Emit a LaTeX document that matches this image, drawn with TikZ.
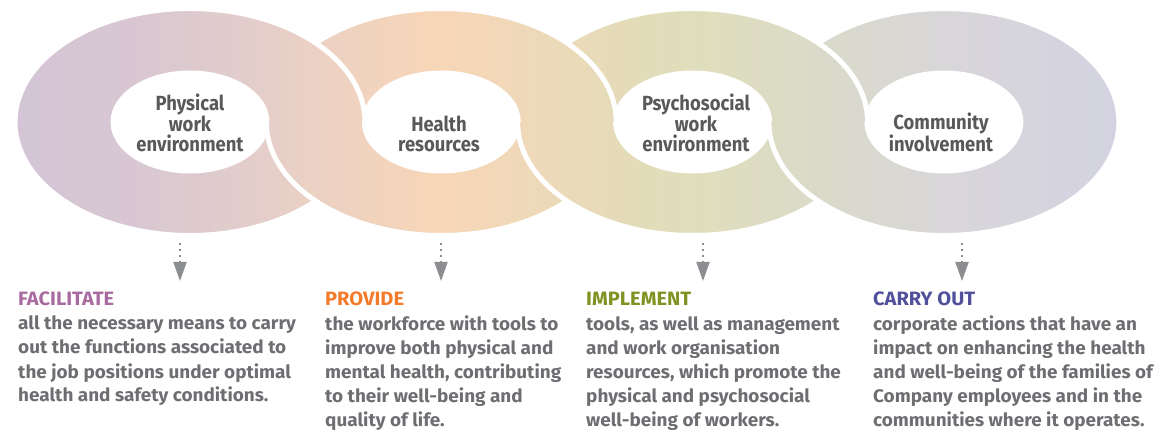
\documentclass[tikz,border=0pt]{standalone}
\usepackage{fontspec}
\setmainfont{Fira Sans}[FakeStretch=1.04]
\newfontfamily\linkfont{Fira Sans}[FakeStretch=0.9]
\usetikzlibrary{arrows.meta}

% text colours
\definecolor{labelgray}{HTML}{58595B}
\definecolor{bodygray}{HTML}{6D6E71}
\definecolor{arrowgray}{HTML}{8C8D90}
\definecolor{hfac}{HTML}{A86BA0}
\definecolor{hpro}{HTML}{F37B2C}
\definecolor{himp}{HTML}{7E9322}
\definecolor{hcar}{HTML}{50519A}

% colour stops of the band running through the chain, left to right
\definecolor{ga}{HTML}{D3C4D7}
\definecolor{gb}{HTML}{D8C7D2}
\definecolor{gc}{HTML}{E3CDCB}
\definecolor{gd}{HTML}{EDD2C2}
\definecolor{ge}{HTML}{F8D6B7}
\definecolor{gf}{HTML}{EDD9B8}
\definecolor{gg}{HTML}{E3DCB9}
\definecolor{gh}{HTML}{DFDEBC}
\definecolor{gi}{HTML}{D9D9CF}
\definecolor{gj}{HTML}{D8D6D9}
\definecolor{gk}{HTML}{D2D1E4}

% the path box is mapped onto 25bp..75bp of the shading
\pgfdeclarehorizontalshading{chainshade}{100bp}{%
  color(0bp)=(ga); color(25bp)=(ga); color(30.53bp)=(gb);
  color(35.63bp)=(gc); color(39.03bp)=(gd); color(43.75bp)=(ge);
  color(47.96bp)=(gf); color(52.21bp)=(gg); color(54.76bp)=(gh);
  color(61.56bp)=(gi); color(65.39bp)=(gj); color(75bp)=(gk);
  color(100bp)=(gk)}

\tikzset{
  gapline/.style={draw=white, line width=5pt},
  ringlabel/.style={align=center, inner sep=0pt, anchor=base, text=labelgray,
    font=\linkfont\bfseries\fontsize{20.5}{20.5}\selectfont},
  headline/.style={inner sep=0pt, anchor=base west,
    font=\bfseries\fontsize{19.3}{24}\selectfont},
  bodytext/.style={align=left, inner sep=0pt, anchor=base west, text=bodygray,
    font=\bfseries\fontsize{18.2}{24}\selectfont},
  downarrow/.style={draw=arrowgray, line width=2pt, dash pattern=on 2pt off 4pt,
    -{Triangle[length=19pt, width=13pt, fill=arrowgray]}}
}

% one link of the chain: shaded band between two ellipses, with white edges
\newcommand{\chainlink}[1]{%
  \begin{scope}[even odd rule]
    \clip (#1,122) ellipse [x radius=175pt, y radius=113.5pt]
          (#1,122) ellipse [x radius=77pt, y radius=49pt];
    \shade[shading=chainshade] (0,0) rectangle (1176,430);
  \end{scope}
  \path[gapline] (#1,122) ellipse [x radius=175pt, y radius=113.5pt];
  \path[gapline] (#1,122) ellipse [x radius=77pt, y radius=49pt];
}

\begin{document}
\begin{tikzpicture}[x=1pt, y=-1pt]
  \useasboundingbox (0,0) rectangle (1176,430);

  % links, each later one lying over the one before it
  \foreach \cx in {190,441.3,692.6,943.9} {\chainlink{\cx}}
  % upper halves woven back over the following link
  \foreach \cx in {692.6,441.3,190} {
    \begin{scope}
      \clip (0,0) rectangle (1176,122);
      \chainlink{\cx}
    \end{scope}
  }

  % labels in the holes (anchored on the baseline of their last line)
  \node[ringlabel] (physical) at (190,152) {Physical\\work\\environment};
  \node[ringlabel] (health) at (439,152) {Health\\resources};
  \node[ringlabel] (psycho) at (696,152) {Psychosocial\\work\\environment};
  \node[ringlabel] (community) at (941,152) {Community\\involvement};

  % arrows down to the descriptions
  \coordinate (a1s) at (180,243); \coordinate (a1e) at (180,281);
  \coordinate (a2s) at (441,243); \coordinate (a2e) at (441,281);
  \coordinate (a3s) at (703,243); \coordinate (a3e) at (703,281);
  \coordinate (a4s) at (962,243); \coordinate (a4e) at (962,281);
  \draw[downarrow] (a1s) -- (a1e);
  \draw[downarrow] (a2s) -- (a2e);
  \draw[downarrow] (a3s) -- (a3e);
  \draw[downarrow] (a4s) -- (a4e);

  % descriptions (body nodes anchored on the baseline of their last line)
  \node[headline, text=hfac] (facilitate) at (18,306) {FACILITATE};
  \node[bodytext] (facbody) at (18,402) {all the necessary means to carry\\
    out the functions associated to\\the job positions under optimal\\
    health and safety conditions.};

  \node[headline, text=hpro] (provide) at (325,306) {PROVIDE};
  \node[bodytext] (probody) at (325,426) {the workforce with tools to\\
    improve both physical and\\mental health, contributing\\
    to their well-being and\\quality of life.};

  \node[headline, text=himp] (implement) at (586,306) {IMPLEMENT};
  \node[bodytext] (impbody) at (586,426) {tools, as well as management\\
    and work organisation\\resources, which promote the\\
    physical and psychosocial\\well-being of workers.};

  \node[headline, text=hcar] (carryout) at (873,306) {CARRY OUT};
  \node[bodytext] (carbody) at (873,426) {corporate actions that have an\\
    impact on enhancing the health\\and well-being of the families of\\
    Company employees and in the\\communities where it operates.};
\end{tikzpicture}
\end{document}
